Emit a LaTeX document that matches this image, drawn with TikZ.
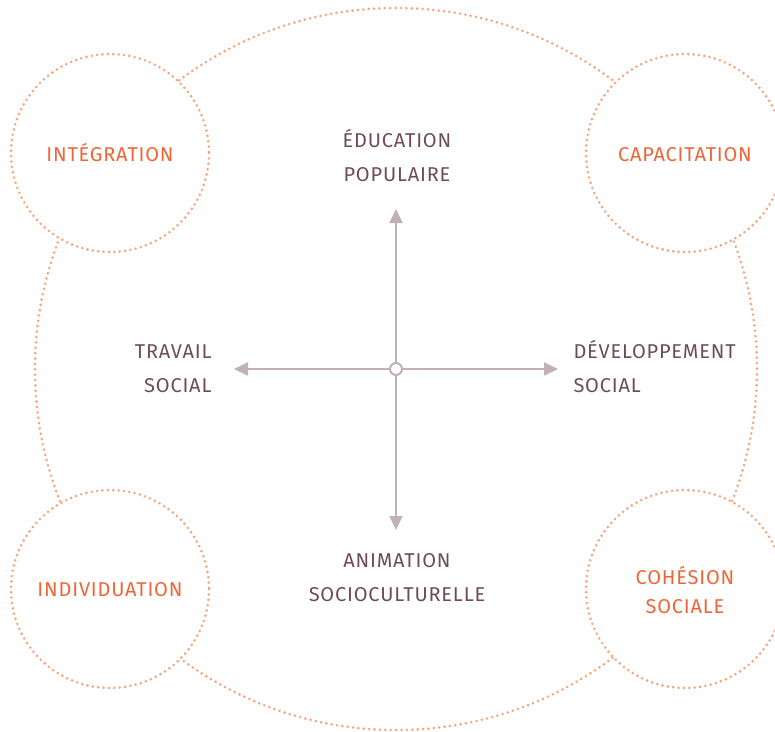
\documentclass[tikz,border=0pt]{standalone}
\usepackage{fontspec}
\setmainfont{Fira Sans}[LetterSpace=4]
\usetikzlibrary{arrows.meta}
\definecolor{dotorange}{HTML}{F5A47C}
\definecolor{txtorange}{HTML}{EE6638}
\definecolor{axisgrey}{HTML}{C2B0B8}
\definecolor{txtplum}{HTML}{6E4B5B}
\tikzset{
  ring/.style={draw=dotorange, line width=2.9pt, line cap=round, dash pattern=on 0pt off 5.4pt},
  pole/.style={text=txtorange, font=\fontsize{20}{28.5}\selectfont, align=center},
  field/.style={text=txtplum, font=\fontsize{20}{34}\selectfont},
  axis/.style={draw=axisgrey, line width=2pt, -{Triangle[length=14pt,width=13pt]}}
}
\begin{document}
\begin{tikzpicture}[x=1pt,y=-1pt]
  \useasboundingbox (0,0) rectangle (775,731);
  \clip (0,0) rectangle (775,731);
  % outer ring, interrupted by the four pole circles
  \draw[ring] (396,369) circle [radius=361];
  \foreach \p/\q in {110/153, 685/153, 110/589, 685/589}
    \fill[white] (\p,\q) circle [radius=99];
  \draw[ring] (110,153) circle [radius=99];
  \draw[ring] (685,153) circle [radius=99];
  \draw[ring] (110,589) circle [radius=99];
  \draw[ring] (685,589) circle [radius=99];
  % pole labels
  \node[pole] (integ) at (110,153) {INTÉGRATION};
  \node[pole] (capac) at (685,155) {CAPACITATION};
  \node[pole] (indiv) at (110,590) {INDIVIDUATION};
  \node[pole] (cohes) at (685,590) {COHÉSION\\SOCIALE};
  % axes
  \coordinate (o) at (396,369);
  \coordinate (up) at (396,209);
  \coordinate (down) at (396,530);
  \coordinate (left) at (234,369);
  \coordinate (right) at (558,369);
  \draw[axis] (o) -- (up);
  \draw[axis] (o) -- (down);
  \draw[axis] (o) -- (left);
  \draw[axis] (o) -- (right);
  \node[circle, draw=axisgrey, fill=white, line width=2pt, minimum size=12pt, inner sep=0pt] (centre) at (o) {};
  % field labels
  \node[field, align=center] (edu) at (397,155.5) {ÉDUCATION\\POPULAIRE};
  \node[field, align=right, anchor=east] (trav) at (215,368.5) {TRAVAIL\\SOCIAL};
  \node[field, align=left, anchor=west] (dev) at (570,366.5) {DÉVELOPPEMENT\\SOCIAL};
  \node[field, align=center] (anim) at (397,577.5) {ANIMATION\\SOCIOCULTURELLE};
\end{tikzpicture}
\end{document}
